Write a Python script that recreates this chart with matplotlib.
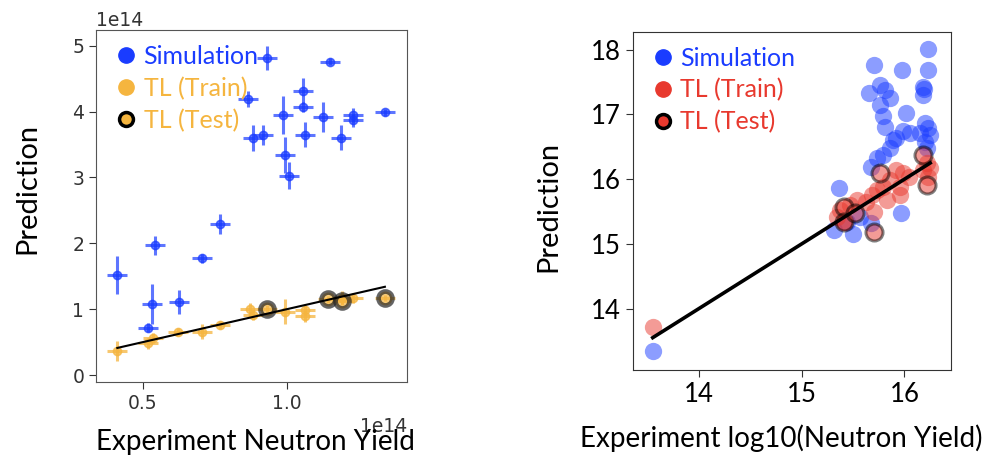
import matplotlib.pyplot as plt
from matplotlib.lines import Line2D
import numpy as np

# ---- linear scale panel (units of 1e14) ----
sim_x = [0.93, 1.149, 0.866, 1.057, 1.057, 0.987, 1.126, 1.23, 1.23, 1.34, 0.883, 0.918,
         1.063, 1.187, 0.993, 1.007, 0.767, 0.542, 0.706, 0.411, 0.530, 0.626, 0.518]
sim_y = [4.81, 4.76, 4.19, 4.31, 4.07, 3.95, 3.92, 3.95, 3.87, 3.99, 3.60, 3.65,
         3.65, 3.60, 3.34, 3.03, 2.29, 1.97, 1.77, 1.52, 1.08, 1.11, 0.72]
sim_err = [0.18, 0.05, 0.12, 0.20, 0.08, 0.29, 0.23, 0.10, 0.10, 0.05, 0.20, 0.15,
           0.19, 0.19, 0.27, 0.20, 0.15, 0.14, 0.07, 0.29, 0.30, 0.18, 0.07]

train_x = [0.411, 0.518, 0.536, 0.623, 0.706, 0.767, 0.871, 0.883, 0.993, 1.063, 1.063, 1.19, 1.23]
train_y = [0.37, 0.48, 0.56, 0.65, 0.66, 0.76, 1.01, 0.91, 0.96, 0.99, 0.89, 1.17, 1.17]
train_err = [0.15, 0.08, 0.08, 0.06, 0.12, 0.06, 0.08, 0.08, 0.19, 0.08, 0.08, 0.1, 0.08]

test_x = [0.93, 1.143, 1.19, 1.34]
test_y = [1.01, 1.15, 1.13, 1.17]
test_err = [0.05, 0.05, 0.05, 0.05]

# ---- log10 panel ----
log_sim_x = [16.23, 16.23, 15.70, 15.98, 16.18, 16.19, 16.18, 15.65, 15.76, 15.81, 15.86, 15.76,
             15.79, 15.81, 16.01, 15.92, 15.99, 16.05, 16.20, 16.23, 16.25, 16.20, 16.15, 15.86,
             15.79, 15.73, 15.67, 15.89, 16.22, 15.36, 15.97, 15.31, 15.50, 15.67, 15.44, 15.57, 13.55]
log_sim_y = [18.01, 17.68, 17.77, 17.69, 17.43, 17.39, 17.30, 17.33, 17.46, 17.38, 17.25, 17.15,
             16.97, 16.80, 17.02, 16.63, 16.74, 16.71, 16.87, 16.79, 16.68, 16.58, 16.71, 16.48,
             16.37, 16.32, 16.19, 16.61, 16.48, 15.86, 15.48, 15.21, 15.16, 15.32, 15.34, 15.42, 13.34]

log_train_x = [15.92, 15.99, 16.04, 15.86, 15.79, 15.73, 15.96, 15.96, 15.83, 15.68, 15.63,
               15.54, 15.47, 15.37, 15.34, 15.41, 15.70, 16.25, 16.22, 16.23, 16.18, 13.55]
log_train_y = [16.14, 16.09, 16.04, 15.99, 15.88, 15.83, 15.88, 15.76, 15.68, 15.76, 15.65,
               15.68, 15.60, 15.52, 15.42, 15.34, 15.50, 16.17, 16.25, 16.04, 16.14, 13.72]

log_test_x = [15.76, 16.18, 16.22, 15.41, 15.41, 15.70, 15.52]
log_test_y = [16.10, 16.37, 15.91, 15.57, 15.34, 15.19, 15.47]

BLUE = "#1a3cff"
ORANGE = "#f5b53f"
RED = "#e8392e"
LABEL_FONT = "Lato"

fig = plt.figure(figsize=(9.97, 4.59), dpi=100)

# ---------------- left: raw neutron yield ----------------
ax1 = fig.add_axes([0.0963, 0.1678, 0.312, 0.7668])
ax1.errorbar(np.array(sim_x) * 1e14, np.array(sim_y) * 1e14, yerr=np.array(sim_err) * 1e14,
             xerr=0.035e14, fmt="o", ms=6, color=BLUE, ecolor=BLUE, elinewidth=2.2,
             alpha=0.7, zorder=2)
ax1.errorbar(np.array(train_x) * 1e14, np.array(train_y) * 1e14, yerr=np.array(train_err) * 1e14,
             xerr=0.035e14, fmt="o", ms=6, color=ORANGE, ecolor=ORANGE, elinewidth=2.2,
             alpha=0.75, zorder=2)
ax1.errorbar(np.array(test_x) * 1e14, np.array(test_y) * 1e14, yerr=np.array(test_err) * 1e14,
             xerr=0.035e14, fmt="o", ms=10, color=ORANGE, ecolor=ORANGE, mec="#222222", mew=3.4,
             elinewidth=2.2, alpha=0.7, zorder=3)
lo = min(sim_x) * 1e14
hi = max(sim_x) * 1e14
ax1.plot([lo, hi], [lo, hi], color="black", lw=1.5, zorder=4)

ax1.set_xlim(0.337e14, 1.417e14)
ax1.set_ylim(-0.106e14, 5.24e14)
ax1.set_xticks([0.5e14, 1.0e14])
ax1.set_yticks([0, 1e14, 2e14, 3e14, 4e14, 5e14])
ax1.tick_params(labelsize=13.5, colors="#333333", length=5)
for off in (ax1.xaxis.get_offset_text(), ax1.yaxis.get_offset_text()):
    off.set_fontsize(13.5)
    off.set_color("#333333")
for sp in ax1.spines.values():
    sp.set_color("#555555")

handles1 = [
    Line2D([], [], ls="", marker="o", ms=11, color=BLUE),
    Line2D([], [], ls="", marker="o", ms=11, color=ORANGE),
    Line2D([], [], ls="", marker="o", ms=10, color=ORANGE, mec="black", mew=2.5),
]
ax1.legend(handles1, ["Simulation", "TL (Train)", "TL (Test)"], loc="upper left",
           frameon=False, handletextpad=0.1, handlelength=1.2, labelspacing=0.35,
           borderaxespad=0.2, prop={"family": LABEL_FONT, "size": 18},
           labelcolor=[BLUE, ORANGE, ORANGE])

fig.text(0.027, 0.59, "Prediction", rotation=90, ha="center", va="center",
         family=LABEL_FONT, fontsize=21)
fig.text(0.256, 0.036, "Experiment Neutron Yield", ha="center", va="center",
         family=LABEL_FONT, fontsize=20)

# ---------------- right: log10 neutron yield ----------------
ax2 = fig.add_axes([0.6346, 0.1939, 0.319, 0.7371])
ax2.scatter(log_sim_x, log_sim_y, s=155, color=BLUE, alpha=0.5, lw=0, zorder=2)
ax2.scatter(log_train_x, log_train_y, s=155, color=RED, alpha=0.5, lw=0, zorder=3)
ax2.scatter(log_test_x, log_test_y, s=150, color=RED, alpha=0.5, edgecolors="black",
            linewidths=2.2, zorder=3)
llo = min(log_train_x)
lhi = max(log_train_x)
ax2.plot([llo, lhi], [llo, lhi], color="black", lw=2.6, zorder=4)

ax2.set_xlim(13.355, 16.45)
ax2.set_ylim(13.05, 18.28)
ax2.set_xticks([14, 15, 16])
ax2.set_yticks([14, 15, 16, 17, 18])
ax2.tick_params(length=5, color="#333333")
for lab in ax2.get_xticklabels() + ax2.get_yticklabels():
    lab.set_family(LABEL_FONT)
    lab.set_fontsize(18.5)
for sp in ax2.spines.values():
    sp.set_color("#333333")

handles2 = [
    Line2D([], [], ls="", marker="o", ms=11, color=BLUE),
    Line2D([], [], ls="", marker="o", ms=11, color=RED),
    Line2D([], [], ls="", marker="o", ms=10, color=RED, mec="black", mew=2.5),
]
ax2.legend(handles2, ["Simulation", "TL (Train)", "TL (Test)"], loc="upper left",
           frameon=False, handletextpad=0.1, handlelength=1.2, labelspacing=0.35,
           borderaxespad=0.2, prop={"family": LABEL_FONT, "size": 18},
           labelcolor=[BLUE, RED, RED])

fig.text(0.55, 0.55, "Prediction", rotation=90, ha="center", va="center",
         family=LABEL_FONT, fontsize=21)
fig.text(0.784, 0.046, "Experiment log10(Neutron Yield)", ha="center", va="center",
         family=LABEL_FONT, fontsize=20)

fig.savefig("out.png", dpi=100)
